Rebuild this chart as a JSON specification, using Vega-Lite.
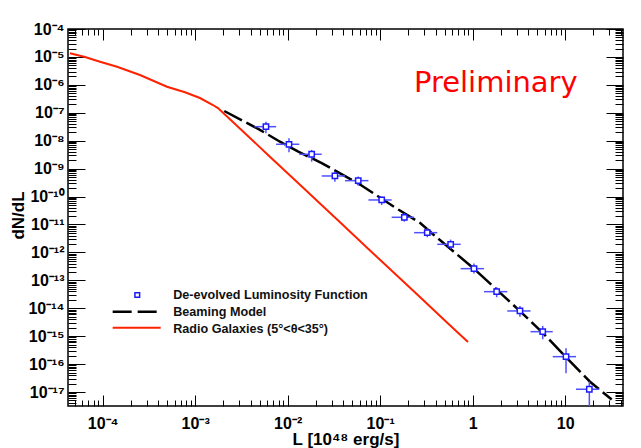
{
  "$schema": "https://vega.github.io/schema/vega-lite/v6.json",
  "width": 555,
  "height": 377,
  "autosize": "none",
  "padding": {"left": 68, "top": 29, "right": 18, "bottom": 42},
  "background": "#ffffff",
  "config": {"view": {"stroke": "#000000", "strokeWidth": 1.5}, "font": "Liberation Sans"},
  "datasets": {
    "radio": [
      {"x": 4.426e-5, "y": 1.349e-5}, {"x": 6.442e-5, "y": 9.931e-6}, {"x": 9.354e-5, "y": 6.730e-6},
      {"x": 1.429e-4, "y": 4.457e-6}, {"x": 2.529e-4, "y": 2.249e-6}, {"x": 4.955e-4, "y": 8.570e-7},
      {"x": 7.762e-4, "y": 5.408e-7}, {"x": 1.125e-3, "y": 3.381e-7}, {"x": 1.556e-3, "y": 1.897e-7},
      {"x": 1.762e-3, "y": 1.479e-7}, {"x": 2.559e-3, "y": 4.677e-8}, {"x": 5.970e-3, "y": 3.365e-9},
      {"x": 1.358e-2, "y": 2.630e-10}, {"x": 2.234e-2, "y": 5.623e-11}, {"x": 3.681e-2, "y": 1.202e-11},
      {"x": 7.762e-2, "y": 1.175e-12}, {"x": 0.2500, "y": 3.162e-14}, {"x": 0.5272, "y": 3.090e-15},
      {"x": 0.8892, "y": 6.166e-16}
    ],
    "model": [
      {"x": 2.061e-3, "y": 1.159e-7}, {"x": 4.898e-3, "y": 2.559e-8}, {"x": 8.260e-3, "y": 9.204e-9},
      {"x": 1.303e-2, "y": 4.036e-9}, {"x": 2.333e-2, "y": 1.585e-9}, {"x": 6.053e-2, "y": 2.692e-10},
      {"x": 0.1570, "y": 3.420e-11}, {"x": 0.2692, "y": 1.143e-11}, {"x": 0.3750, "y": 4.365e-12},
      {"x": 0.6166, "y": 1.096e-12}, {"x": 1.014, "y": 2.754e-13}, {"x": 1.816, "y": 4.677e-14},
      {"x": 3.243, "y": 7.943e-15}, {"x": 5.794, "y": 1.259e-15}, {"x": 10.38, "y": 1.660e-16},
      {"x": 18.54, "y": 2.344e-17}, {"x": 31.84, "y": 5.370e-18}
    ],
    "lf": [
      {"x": 5.82e-3, "xlo": 4.365e-3, "xhi": 7.50e-3, "y": 3.18e-8, "ylo": 1.85e-8, "yhi": 4.80e-8},
      {"x": 1.033e-2, "xlo": 7.50e-3, "xhi": 1.334e-2, "y": 7.45e-9, "ylo": 3.85e-9, "yhi": 1.22e-8},
      {"x": 1.816e-2, "xlo": 1.334e-2, "xhi": 2.333e-2, "y": 3.27e-9, "ylo": 1.77e-9, "yhi": 4.66e-9},
      {"x": 3.24e-2, "xlo": 2.333e-2, "xhi": 4.16e-2, "y": 5.46e-10, "ylo": 3.41e-10, "yhi": 7.78e-10},
      {"x": 5.79e-2, "xlo": 4.16e-2, "xhi": 7.46e-2, "y": 3.71e-10, "ylo": 2.47e-10, "yhi": 5.19e-10},
      {"x": 0.1038, "xlo": 7.46e-2, "xhi": 0.1330, "y": 7.55e-11, "ylo": 5.00e-11, "yhi": 9.91e-11},
      {"x": 0.1824, "xlo": 0.1330, "xhi": 0.2328, "y": 1.81e-11, "ylo": 1.26e-11, "yhi": 2.52e-11},
      {"x": 0.3228, "xlo": 0.2328, "xhi": 0.414, "y": 5.09e-12, "ylo": 3.48e-12, "yhi": 7.31e-12},
      {"x": 0.578, "xlo": 0.414, "xhi": 0.741, "y": 1.95e-12, "ylo": 1.34e-12, "yhi": 2.88e-12},
      {"x": 1.033, "xlo": 0.741, "xhi": 1.324, "y": 2.62e-13, "ylo": 1.75e-13, "yhi": 3.98e-13},
      {"x": 1.816, "xlo": 1.324, "xhi": 2.366, "y": 3.93e-14, "ylo": 2.48e-14, "yhi": 5.65e-14},
      {"x": 3.243, "xlo": 2.366, "xhi": 4.217, "y": 8.00e-15, "ylo": 5.00e-15, "yhi": 1.21e-14},
      {"x": 5.715, "xlo": 4.217, "xhi": 7.328, "y": 1.45e-15, "ylo": 7.76e-16, "yhi": 2.32e-15},
      {"x": 10.21, "xlo": 7.328, "xhi": 13.09, "y": 1.85e-16, "ylo": 4.71e-17, "yhi": 3.70e-16},
      {"x": 18.24, "xlo": 13.09, "xhi": 23.39, "y": 1.26e-17, "ylo": 2.51e-18, "yhi": 2.36e-17}
    ]
  },
  "resolve": {"axis": {"x": "independent", "y": "independent"}},
  "layer": [
    {
      "data": {"name": "radio"},
      "mark": {"type": "line", "color": "#ff2200", "strokeWidth": 2, "clip": true},
      "encoding": {
        "x": {"field": "x", "type": "quantitative", "scale": {"type": "log", "domain": [4.217e-5, 42.17], "nice": false},
          "axis": {"orient": "bottom", "values": [0.0001, 0.001, 0.01, 0.1, 1, 10],
            "labelExpr": "datum.value >= 10 ? '10' : datum.value >= 1 ? '1' : '10⁻' + ['⁰','¹','²','³','⁴','⁵'][round(-log(datum.value)/LN10)]",
            "ticks": false, "tickSize": 0, "domain": false, "grid": false,
            "labelFont": "Liberation Sans", "labelFontSize": 16, "labelFontWeight": "bold", "labelColor": "#000000",
            "labelPadding": 9, "labelFlush": false, "labelOverlap": false,
            "title": "L [10⁴⁸ erg/s]", "titleFont": "Liberation Sans", "titleFontSize": 17, "titleFontWeight": "bold",
            "titleColor": "#000000", "titleBaseline": "alphabetic", "titleY": 38.5, "titleX": 277.5}},
        "y": {"field": "y", "type": "quantitative", "scale": {"type": "log", "domain": [3.162e-18, 1e-4], "nice": false},
          "axis": {"orient": "left", "values": [1e-17, 1e-16, 1e-15, 1e-14, 1e-13, 1e-12, 1e-11, 1e-10, 1e-9, 1e-8, 1e-7, 1e-6, 1e-5, 1e-4],
            "labelExpr": "'10⁻' + (round(-log(datum.value)/LN10) >= 10 ? '¹' : '') + ['⁰','¹','²','³','⁴','⁵','⁶','⁷','⁸','⁹'][round(-log(datum.value)/LN10) % 10]",
            "ticks": false, "tickSize": 0, "domain": false, "grid": false,
            "labelFont": "Liberation Sans", "labelFontSize": 16, "labelFontWeight": "bold", "labelColor": "#000000",
            "labelPadding": 4, "labelFlush": false, "labelOverlap": false,
            "title": "dN/dL", "titleFont": "Liberation Sans", "titleFontSize": 17, "titleFontWeight": "bold", "titleColor": "#000000",
            "titleAngle": 270, "titleBaseline": "middle", "titleX": -50, "titleY": 186}}
      }
    },
    {
      "data": {"name": "model"},
      "mark": {"type": "line", "color": "#000000", "strokeWidth": 2.5, "strokeDash": [20, 5], "clip": true},
      "encoding": {
        "x": {"field": "x", "type": "quantitative", "scale": {"type": "log", "domain": [4.217e-5, 42.17], "nice": false},
          "axis": {"orient": "top", "values": [0.0001, 0.001, 0.01, 0.1, 1, 10], "labels": false, "domain": false, "grid": false, "title": null,
            "ticks": true, "tickSize": -11, "tickColor": "#000000", "tickWidth": 1}},
        "y": {"field": "y", "type": "quantitative", "scale": {"type": "log", "domain": [3.162e-18, 1e-4], "nice": false},
          "axis": {"orient": "right", "values": [1e-17, 1e-16, 1e-15, 1e-14, 1e-13, 1e-12, 1e-11, 1e-10, 1e-9, 1e-8, 1e-7, 1e-6, 1e-5, 1e-4],
            "labels": false, "domain": false, "grid": false, "title": null, "ticks": true, "tickSize": -17, "tickColor": "#000000", "tickWidth": 1}}
      }
    },
    {
      "data": {"name": "lf"},
      "mark": {"type": "rule", "color": "#5050ff", "strokeWidth": 1.5, "clip": true},
      "encoding": {
        "x": {"field": "xlo", "type": "quantitative", "scale": {"type": "log", "domain": [4.217e-5, 42.17], "nice": false},
          "axis": {"orient": "bottom", "values": [0.0001, 0.001, 0.01, 0.1, 1, 10], "labels": false, "domain": false, "grid": false, "title": null,
            "ticks": true, "tickSize": -11, "tickColor": "#000000", "tickWidth": 1}},
        "x2": {"field": "xhi"},
        "y": {"field": "y", "type": "quantitative", "scale": {"type": "log", "domain": [3.162e-18, 1e-4], "nice": false},
          "axis": {"orient": "left", "values": [1e-17, 1e-16, 1e-15, 1e-14, 1e-13, 1e-12, 1e-11, 1e-10, 1e-9, 1e-8, 1e-7, 1e-6, 1e-5, 1e-4],
            "labels": false, "domain": false, "grid": false, "title": null, "ticks": true, "tickSize": -17, "tickColor": "#000000", "tickWidth": 1}}
      }
    },
    {
      "data": {"name": "lf"},
      "mark": {"type": "rule", "color": "#5050ff", "strokeWidth": 1.5, "clip": true},
      "encoding": {
        "x": {"field": "x", "type": "quantitative", "scale": {"type": "log", "domain": [4.217e-5, 42.17], "nice": false},
          "axis": {"orient": "bottom", "values": [5e-5, 6e-5, 7e-5, 8e-5, 9e-5, 2e-4, 3e-4, 4e-4, 5e-4, 6e-4, 7e-4, 8e-4, 9e-4, 0.002, 0.003, 0.004, 0.005, 0.006, 0.007, 0.008, 0.009, 0.02, 0.03, 0.04, 0.05, 0.06, 0.07, 0.08, 0.09, 0.2, 0.3, 0.4, 0.5, 0.6, 0.7, 0.8, 0.9, 2, 3, 4, 5, 6, 7, 8, 9, 20, 30, 40],
            "labels": false, "domain": false, "grid": false, "title": null, "ticks": true, "tickSize": -6, "tickColor": "#000000", "tickWidth": 1}},
        "y": {"field": "ylo", "type": "quantitative", "scale": {"type": "log", "domain": [3.162e-18, 1e-4], "nice": false},
          "axis": {"orient": "left", "values": [4e-18, 5e-18, 6e-18, 7e-18, 8e-18, 9e-18, 2e-17, 3e-17, 4e-17, 5e-17, 6e-17, 7e-17, 8e-17, 9e-17, 2e-16, 3e-16, 4e-16, 5e-16, 6e-16, 7e-16, 8e-16, 9e-16, 2e-15, 3e-15, 4e-15, 5e-15, 6e-15, 7e-15, 8e-15, 9e-15, 2e-14, 3e-14, 4e-14, 5e-14, 6e-14, 7e-14, 8e-14, 9e-14, 2e-13, 3e-13, 4e-13, 5e-13, 6e-13, 7e-13, 8e-13, 9e-13, 2e-12, 3e-12, 4e-12, 5e-12, 6e-12, 7e-12, 8e-12, 9e-12, 2e-11, 3e-11, 4e-11, 5e-11, 6e-11, 7e-11, 8e-11, 9e-11, 2e-10, 3e-10, 4e-10, 5e-10, 6e-10, 7e-10, 8e-10, 9e-10, 2e-9, 3e-9, 4e-9, 5e-9, 6e-9, 7e-9, 8e-9, 9e-9, 2e-8, 3e-8, 4e-8, 5e-8, 6e-8, 7e-8, 8e-8, 9e-8, 2e-7, 3e-7, 4e-7, 5e-7, 6e-7, 7e-7, 8e-7, 9e-7, 2e-6, 3e-6, 4e-6, 5e-6, 6e-6, 7e-6, 8e-6, 9e-6, 2e-5, 3e-5, 4e-5, 5e-5, 6e-5, 7e-5, 8e-5, 9e-5],
            "labels": false, "domain": false, "grid": false, "title": null, "ticks": true, "tickSize": -8, "tickColor": "#000000", "tickWidth": 1}},
        "y2": {"field": "yhi"}
      }
    },
    {
      "data": {"name": "lf"},
      "mark": {"type": "point", "shape": "square", "size": 28, "filled": true, "fill": "#ffffff", "stroke": "#1a1aff", "strokeWidth": 1.5, "opacity": 1, "clip": true},
      "encoding": {
        "x": {"field": "x", "type": "quantitative", "scale": {"type": "log", "domain": [4.217e-5, 42.17], "nice": false},
          "axis": {"orient": "top", "values": [5e-5, 6e-5, 7e-5, 8e-5, 9e-5, 2e-4, 3e-4, 4e-4, 5e-4, 6e-4, 7e-4, 8e-4, 9e-4, 0.002, 0.003, 0.004, 0.005, 0.006, 0.007, 0.008, 0.009, 0.02, 0.03, 0.04, 0.05, 0.06, 0.07, 0.08, 0.09, 0.2, 0.3, 0.4, 0.5, 0.6, 0.7, 0.8, 0.9, 2, 3, 4, 5, 6, 7, 8, 9, 20, 30, 40],
            "labels": false, "domain": false, "grid": false, "title": null, "ticks": true, "tickSize": -6, "tickColor": "#000000", "tickWidth": 1}},
        "y": {"field": "y", "type": "quantitative", "scale": {"type": "log", "domain": [3.162e-18, 1e-4], "nice": false},
          "axis": {"orient": "right", "values": [4e-18, 5e-18, 6e-18, 7e-18, 8e-18, 9e-18, 2e-17, 3e-17, 4e-17, 5e-17, 6e-17, 7e-17, 8e-17, 9e-17, 2e-16, 3e-16, 4e-16, 5e-16, 6e-16, 7e-16, 8e-16, 9e-16, 2e-15, 3e-15, 4e-15, 5e-15, 6e-15, 7e-15, 8e-15, 9e-15, 2e-14, 3e-14, 4e-14, 5e-14, 6e-14, 7e-14, 8e-14, 9e-14, 2e-13, 3e-13, 4e-13, 5e-13, 6e-13, 7e-13, 8e-13, 9e-13, 2e-12, 3e-12, 4e-12, 5e-12, 6e-12, 7e-12, 8e-12, 9e-12, 2e-11, 3e-11, 4e-11, 5e-11, 6e-11, 7e-11, 8e-11, 9e-11, 2e-10, 3e-10, 4e-10, 5e-10, 6e-10, 7e-10, 8e-10, 9e-10, 2e-9, 3e-9, 4e-9, 5e-9, 6e-9, 7e-9, 8e-9, 9e-9, 2e-8, 3e-8, 4e-8, 5e-8, 6e-8, 7e-8, 8e-8, 9e-8, 2e-7, 3e-7, 4e-7, 5e-7, 6e-7, 7e-7, 8e-7, 9e-7, 2e-6, 3e-6, 4e-6, 5e-6, 6e-6, 7e-6, 8e-6, 9e-6, 2e-5, 3e-5, 4e-5, 5e-5, 6e-5, 7e-5, 8e-5, 9e-5],
            "labels": false, "domain": false, "grid": false, "title": null, "ticks": true, "tickSize": -8, "tickColor": "#000000", "tickWidth": 1}}
      }
    },
    {
      "data": {"values": [{"x": 2.366e-4, "y": 2.99e-14}]},
      "mark": {"type": "point", "shape": "square", "size": 22, "filled": true, "fill": "#ffffff", "stroke": "#1a1aff", "strokeWidth": 1.5, "opacity": 1},
      "encoding": {
        "x": {"field": "x", "type": "quantitative", "scale": {"type": "log", "domain": [4.217e-5, 42.17], "nice": false}, "axis": null},
        "y": {"field": "y", "type": "quantitative", "scale": {"type": "log", "domain": [3.162e-18, 1e-4], "nice": false}, "axis": null}
      }
    },
    {
      "data": {"values": [{"x": 1.282e-4, "x2": 4.236e-4, "y": 7.551e-15}]},
      "mark": {"type": "rule", "color": "#000000", "strokeWidth": 2.5, "strokeDash": [19, 6]},
      "encoding": {
        "x": {"field": "x", "type": "quantitative", "scale": {"type": "log", "domain": [4.217e-5, 42.17], "nice": false}, "axis": null},
        "x2": {"field": "x2"},
        "y": {"field": "y", "type": "quantitative", "scale": {"type": "log", "domain": [3.162e-18, 1e-4], "nice": false}, "axis": null}
      }
    },
    {
      "data": {"values": [{"x": 1.282e-4, "x2": 4.236e-4, "y": 2.018e-15}]},
      "mark": {"type": "rule", "color": "#ff2200", "strokeWidth": 2},
      "encoding": {
        "x": {"field": "x", "type": "quantitative", "scale": {"type": "log", "domain": [4.217e-5, 42.17], "nice": false}, "axis": null},
        "x2": {"field": "x2"},
        "y": {"field": "y", "type": "quantitative", "scale": {"type": "log", "domain": [3.162e-18, 1e-4], "nice": false}, "axis": null}
      }
    },
    {
      "data": {"values": [
        {"x": 5.794e-4, "y": 2.99e-14, "label": "De-evolved Luminosity Function"},
        {"x": 5.794e-4, "y": 7.55e-15, "label": "Beaming Model"},
        {"x": 5.794e-4, "y": 1.77e-15, "label": "Radio Galaxies (5°<θ<35°)"}
      ]},
      "mark": {"type": "text", "align": "left", "baseline": "middle", "font": "Liberation Sans", "fontSize": 12.6, "fontWeight": "bold", "color": "#111111"},
      "encoding": {
        "x": {"field": "x", "type": "quantitative", "scale": {"type": "log", "domain": [4.217e-5, 42.17], "nice": false}, "axis": null},
        "y": {"field": "y", "type": "quantitative", "scale": {"type": "log", "domain": [3.162e-18, 1e-4], "nice": false}, "axis": null},
        "text": {"field": "label"}
      }
    },
    {
      "data": {"values": [{"x": 1.778, "y": 5.69e-7, "label": "Preliminary"}]},
      "mark": {"type": "text", "align": "center", "baseline": "alphabetic", "font": "Comic Sans MS, DejaVu Sans", "fontSize": 29, "color": "#ff0000"},
      "encoding": {
        "x": {"field": "x", "type": "quantitative", "scale": {"type": "log", "domain": [4.217e-5, 42.17], "nice": false}, "axis": null},
        "y": {"field": "y", "type": "quantitative", "scale": {"type": "log", "domain": [3.162e-18, 1e-4], "nice": false}, "axis": null},
        "text": {"field": "label"}
      }
    }
  ]
}
